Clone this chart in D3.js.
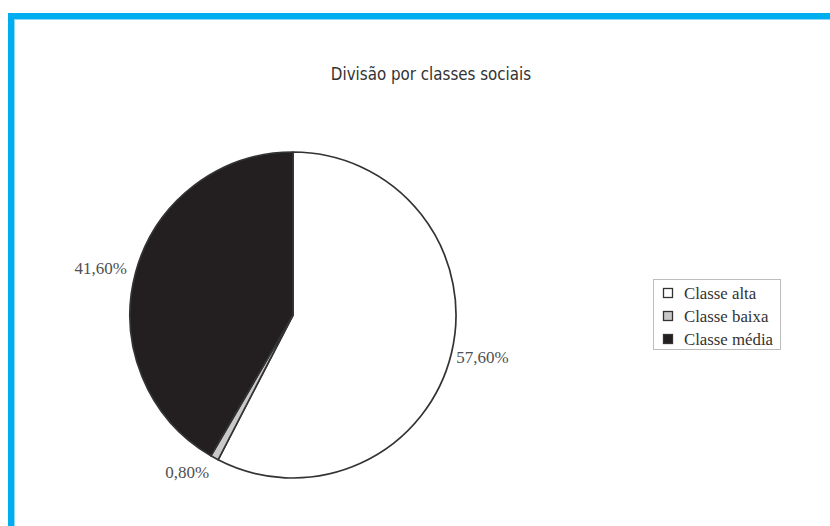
<!DOCTYPE html>
<html>
<head>
<meta charset="utf-8">
<script src="https://cdn.jsdelivr.net/npm/d3@7/dist/d3.min.js"></script>
<style>
  html, body { margin: 0; padding: 0; background: #ffffff; }
  svg { display: block; }
</style>
</head>
<body>
<svg id="chart" width="830" height="526"></svg>
<script>
// Social class split
const categories = ["Classe alta", "Classe baixa", "Classe média"];
const shares = [57.6, 0.8, 41.6];
const shareLabels = ["57,60%", "0,80%", "41,60%"];
const sliceColors = ["#ffffff", "#c9c9c9", "#231f20"];
const title = "Divisão por classes sociais";

const W = 830, H = 526;
const svg = d3.select("#chart");

// Blue frame around the chart area
svg.append("rect")
  .attr("x", 11).attr("y", 16)
  .attr("width", W + 20).attr("height", H + 20)
  .attr("fill", "none")
  .attr("stroke", "#00aeef")
  .attr("stroke-width", 6);
svg.append("rect")
  .attr("x", 14.5).attr("y", 19.5)
  .attr("width", W + 20).attr("height", H + 20)
  .attr("fill", "none")
  .attr("stroke", "#8fd8f5")
  .attr("stroke-width", 1);

// Title
svg.append("text")
  .attr("x", 431).attr("y", 80)
  .attr("text-anchor", "middle")
  .attr("font-family", "'DejaVu Sans Condensed', 'DejaVu Sans', sans-serif")
  .attr("font-size", 16.8)
  .attr("fill", "#333333")
  .text(title);

// Pie
const cx = 293, cy = 315, R = 163;
const data = categories.map((c, i) => ({ name: c, value: shares[i], label: shareLabels[i], color: sliceColors[i] }));

const pie = d3.pie().sort(null).value(d => d.value).startAngle(0).endAngle(2 * Math.PI);
const arc = d3.arc().innerRadius(0).outerRadius(R);
const arcs = pie(data);

const g = svg.append("g").attr("transform", `translate(${cx},${cy})`);

g.selectAll("path.slice")
  .data(arcs)
  .join("path")
  .attr("class", "slice")
  .attr("d", arc)
  .attr("fill", d => d.data.color)
  .attr("stroke", "#333333")
  .attr("stroke-width", 1.7)
  .attr("stroke-linejoin", "round");

// Percentage labels just outside the rim
const labelR = 170;
g.selectAll("text.pct")
  .data(arcs)
  .join("text")
  .attr("class", "pct")
  .each(function (d) {
    const a = (d.startAngle + d.endAngle) / 2;
    const sx = Math.sin(a), cyv = -Math.cos(a);
    const x = sx * labelR;
    const y = cyv * labelR + cyv * 9;
    d3.select(this)
      .attr("x", sx >= 0 ? x - 2 : x - 2)
      .attr("y", y)
      .attr("dy", "0.35em")
      .attr("text-anchor", sx >= 0 ? "start" : "end");
  })
  .attr("font-family", "'Liberation Serif', 'DejaVu Serif', serif")
  .attr("font-size", 17)
  .attr("fill", "#505050")
  .text(d => d.data.label);

// Legend
const legend = svg.append("g").attr("transform", "translate(653,279)");
legend.append("rect")
  .attr("x", 0.5).attr("y", 0.5)
  .attr("width", 127).attr("height", 70)
  .attr("fill", "#ffffff")
  .attr("stroke", "#bdbdbd")
  .attr("stroke-width", 1);

const legendY = d3.scalePoint().domain(categories).range([14, 60]);

const items = legend.selectAll("g.item")
  .data(data)
  .join("g")
  .attr("class", "item")
  .attr("transform", d => `translate(0,${legendY(d.name)})`);

items.append("rect")
  .attr("x", 10.5).attr("y", -4.5)
  .attr("width", 9).attr("height", 9)
  .attr("fill", d => d.color)
  .attr("stroke", "#333333")
  .attr("stroke-width", 1.3);

items.append("text")
  .attr("x", 31).attr("y", 0)
  .attr("dy", "0.35em")
  .attr("font-family", "'Liberation Serif', 'DejaVu Serif', serif")
  .attr("font-size", 16.8)
  .attr("fill", "#333333")
  .text(d => d.name);
</script>
</body>
</html>
